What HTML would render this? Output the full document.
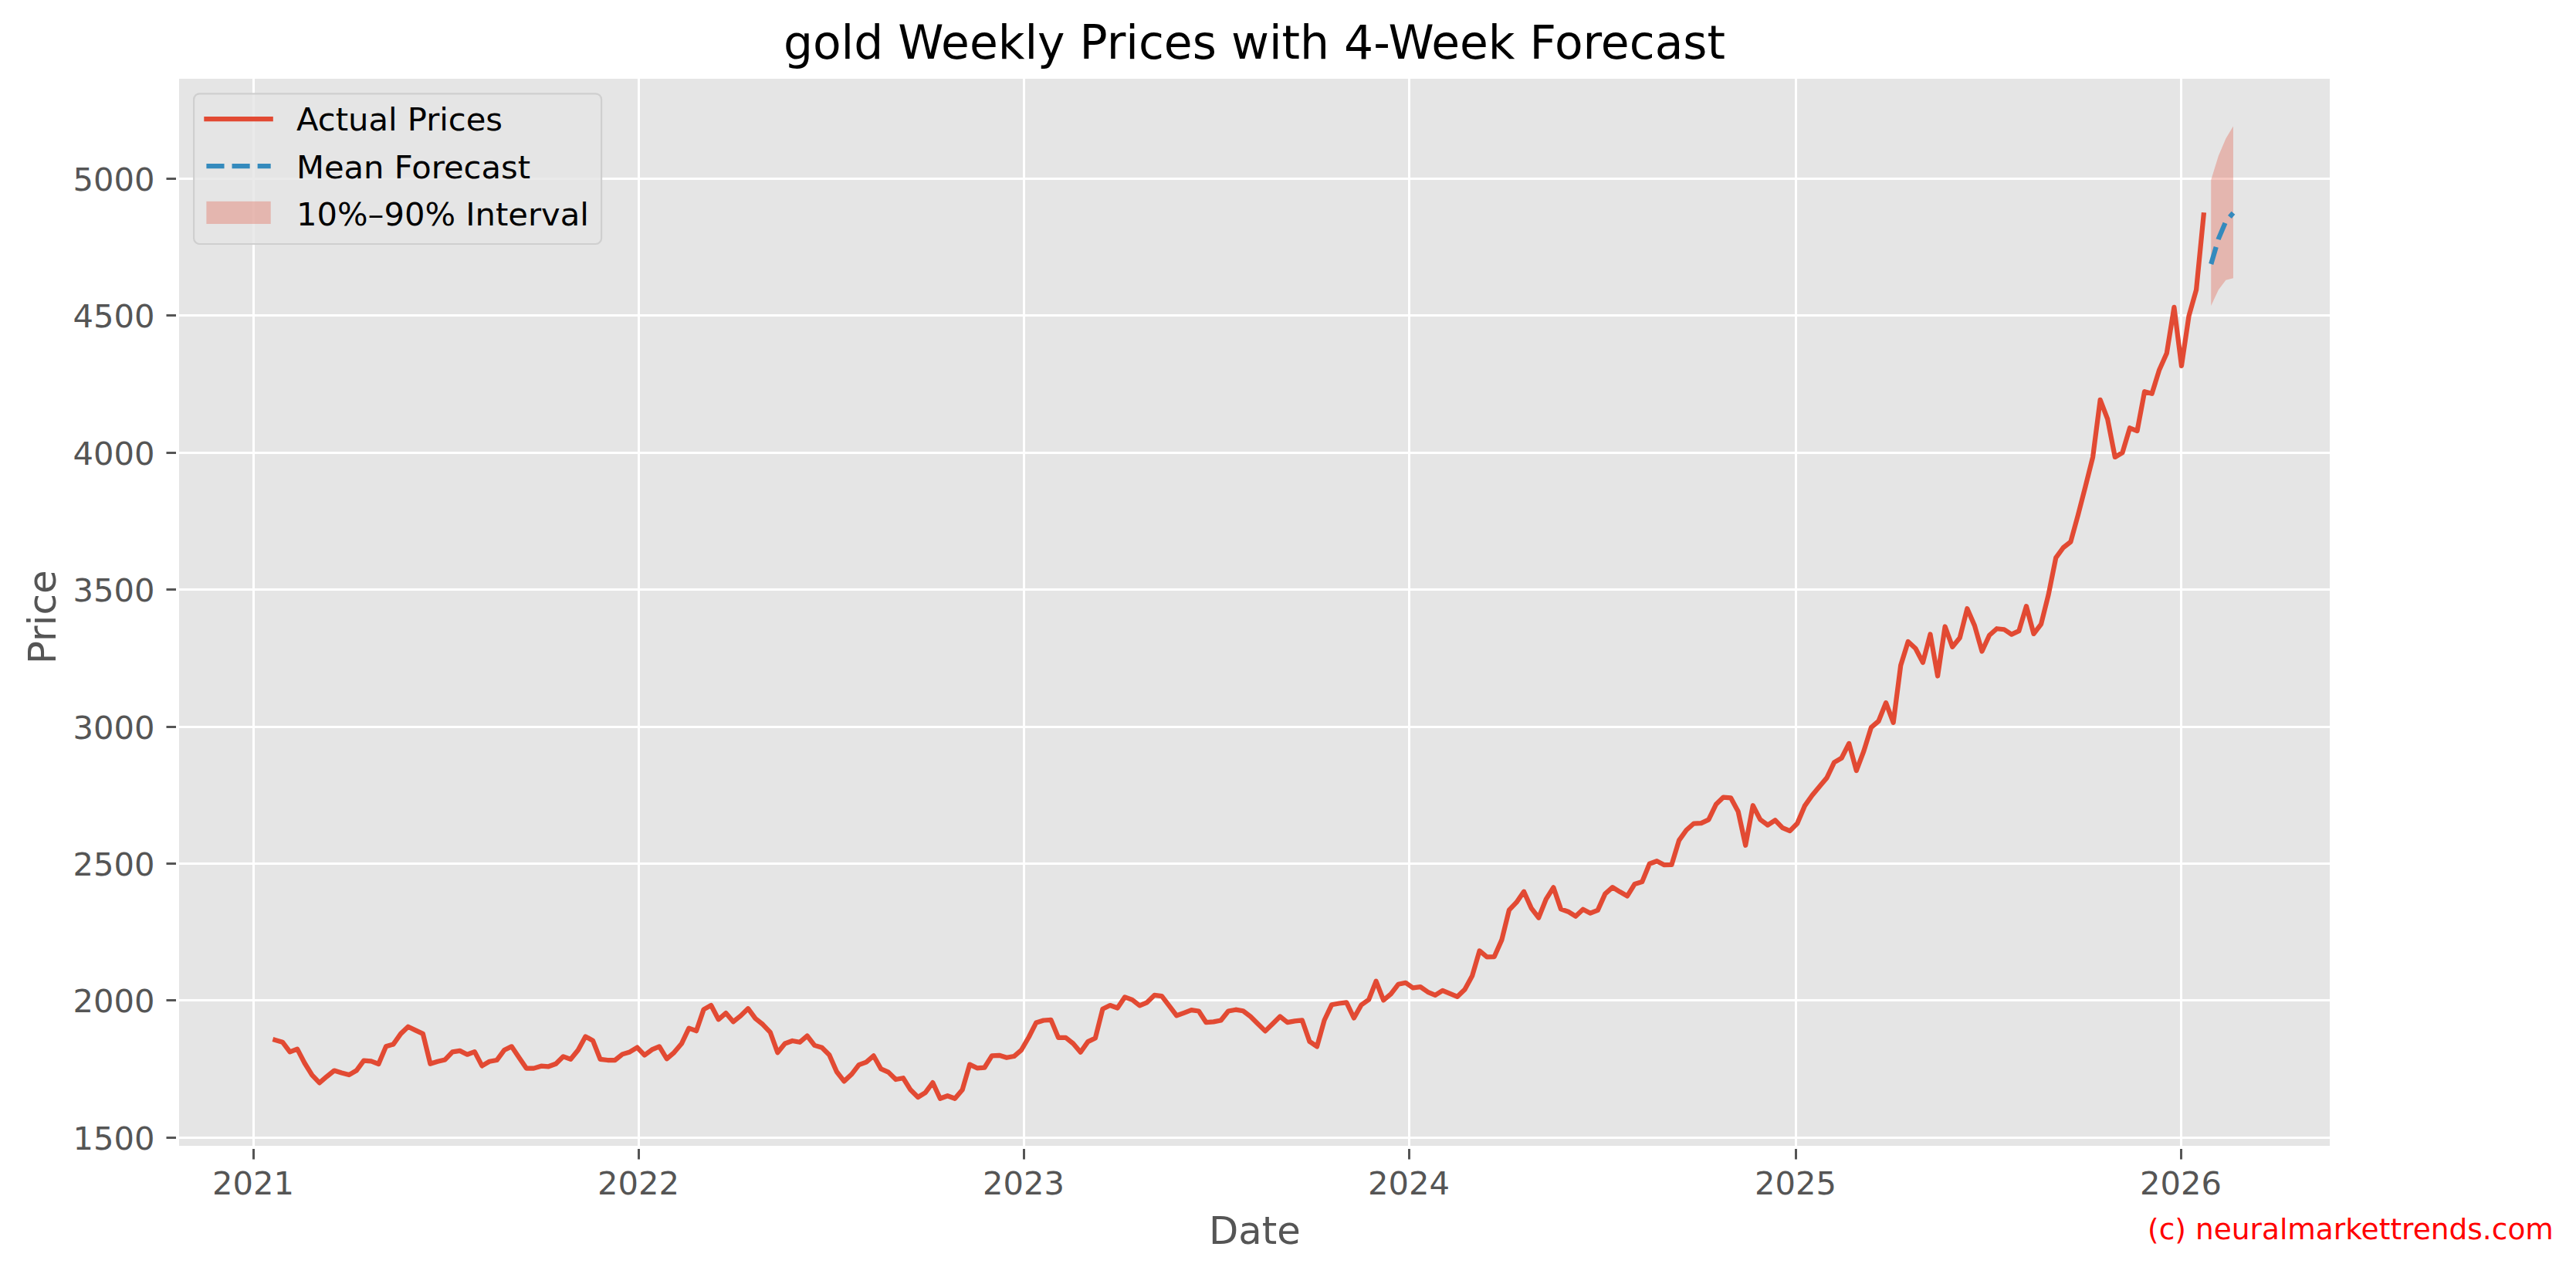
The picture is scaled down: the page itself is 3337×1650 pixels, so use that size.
<!DOCTYPE html>
<html><head><meta charset="utf-8"><title>gold Weekly Prices with 4-Week Forecast</title>
<style>
html,body{margin:0;padding:0;background:#fff;}
body{width:3337px;height:1650px;overflow:hidden;}
svg{display:block;}
text{font-family:'DejaVu Sans','Liberation Sans',sans-serif;}
</style></head><body>
<svg width="3337" height="1650" viewBox="0 0 3337 1650">
<rect x="0" y="0" width="3337" height="1650" fill="#ffffff"/>
<rect x="230.0" y="100.0" width="2790.0" height="1386.0" fill="#e5e5e5"/>
<defs><clipPath id="ax"><rect x="230.0" y="100.0" width="2790.0" height="1386.0"/></clipPath></defs>

<g stroke="#ffffff" stroke-width="3" clip-path="url(#ax)">
<line x1="328.5" y1="100.0" x2="328.5" y2="1486.0"/>
<line x1="827.5" y1="100.0" x2="827.5" y2="1486.0"/>
<line x1="1326.5" y1="100.0" x2="1326.5" y2="1486.0"/>
<line x1="1825.5" y1="100.0" x2="1825.5" y2="1486.0"/>
<line x1="2326.5" y1="100.0" x2="2326.5" y2="1486.0"/>
<line x1="2825.5" y1="100.0" x2="2825.5" y2="1486.0"/>
<line x1="230.0" y1="1473.50" x2="3020.0" y2="1473.50"/>
<line x1="230.0" y1="1295.50" x2="3020.0" y2="1295.50"/>
<line x1="230.0" y1="1118.50" x2="3020.0" y2="1118.50"/>
<line x1="230.0" y1="941.50" x2="3020.0" y2="941.50"/>
<line x1="230.0" y1="763.50" x2="3020.0" y2="763.50"/>
<line x1="230.0" y1="586.50" x2="3020.0" y2="586.50"/>
<line x1="230.0" y1="408.50" x2="3020.0" y2="408.50"/>
<line x1="230.0" y1="231.50" x2="3020.0" y2="231.50"/>
</g>
<g stroke="#555555" stroke-width="3">
<line x1="328.5" y1="1486.0" x2="328.5" y2="1501.5"/>
<line x1="827.5" y1="1486.0" x2="827.5" y2="1501.5"/>
<line x1="1326.5" y1="1486.0" x2="1326.5" y2="1501.5"/>
<line x1="1825.5" y1="1486.0" x2="1825.5" y2="1501.5"/>
<line x1="2326.5" y1="1486.0" x2="2326.5" y2="1501.5"/>
<line x1="2825.5" y1="1486.0" x2="2825.5" y2="1501.5"/>
<line x1="230.0" y1="1473.50" x2="215.5" y2="1473.50"/>
<line x1="230.0" y1="1295.50" x2="215.5" y2="1295.50"/>
<line x1="230.0" y1="1118.50" x2="215.5" y2="1118.50"/>
<line x1="230.0" y1="941.50" x2="215.5" y2="941.50"/>
<line x1="230.0" y1="763.50" x2="215.5" y2="763.50"/>
<line x1="230.0" y1="586.50" x2="215.5" y2="586.50"/>
<line x1="230.0" y1="408.50" x2="215.5" y2="408.50"/>
<line x1="230.0" y1="231.50" x2="215.5" y2="231.50"/>
</g>
<g clip-path="url(#ax)">
<polygon points="2864.24,233.00 2873.81,202.00 2883.38,179.60 2892.95,163.50 2892.95,360.30 2883.38,362.80 2873.81,375.40 2864.24,396.10" fill="#e24a33" fill-opacity="0.3"/>
<polyline points="356.40,1346.88 365.97,1349.70 375.54,1362.42 385.12,1358.65 394.69,1377.02 404.26,1392.44 413.83,1402.45 423.40,1394.21 432.98,1386.55 442.55,1389.50 452.12,1392.09 461.69,1386.55 471.26,1373.60 480.83,1374.43 490.41,1377.96 499.98,1355.35 509.55,1352.41 519.12,1338.87 528.69,1329.69 538.27,1334.40 547.84,1338.87 557.41,1377.72 566.98,1374.78 576.55,1372.43 586.13,1362.42 595.70,1360.89 605.27,1365.71 614.84,1362.13 624.41,1380.38 633.99,1374.79 643.56,1373.02 653.13,1360.07 662.70,1355.36 672.27,1369.49 681.84,1383.62 691.42,1383.62 700.99,1380.68 710.56,1381.26 720.13,1377.73 729.70,1368.31 739.28,1371.84 748.85,1360.07 758.42,1342.41 767.99,1347.71 777.56,1371.84 787.14,1373.02 796.71,1373.02 806.28,1365.37 815.85,1362.43 825.42,1356.54 834.99,1366.55 844.57,1359.48 854.14,1355.36 863.71,1371.26 873.28,1363.01 882.85,1351.83 892.43,1331.66 902.00,1335.19 911.57,1307.37 921.14,1302.07 930.71,1320.32 940.29,1312.08 949.86,1323.27 959.43,1315.61 969.00,1306.19 978.57,1319.14 988.15,1326.80 997.72,1336.81 1007.29,1363.30 1016.86,1351.52 1026.43,1347.99 1036.00,1349.76 1045.58,1341.51 1055.15,1353.88 1064.72,1356.82 1074.29,1366.24 1083.86,1388.02 1093.44,1400.38 1103.01,1391.55 1112.58,1379.19 1122.15,1375.66 1131.72,1367.42 1141.30,1384.49 1150.87,1388.61 1160.44,1398.03 1170.01,1396.26 1179.58,1411.57 1189.16,1420.99 1198.73,1415.10 1208.30,1402.15 1217.87,1422.76 1227.44,1419.22 1237.01,1422.76 1246.59,1411.57 1256.16,1378.60 1265.73,1383.31 1275.30,1382.72 1284.87,1367.42 1294.45,1366.83 1304.02,1369.77 1313.59,1368.01 1323.16,1359.76 1332.73,1343.28 1342.31,1324.44 1351.88,1321.50 1361.45,1320.91 1371.02,1343.87 1380.59,1343.87 1390.17,1351.52 1399.74,1362.71 1409.31,1349.17 1418.88,1344.46 1428.45,1306.78 1438.02,1302.07 1447.60,1305.47 1457.17,1291.35 1466.74,1294.88 1476.31,1302.40 1485.88,1298.28 1495.46,1288.86 1505.03,1290.04 1514.60,1302.64 1524.17,1315.35 1533.74,1311.82 1543.32,1308.05 1552.89,1309.47 1562.46,1324.18 1572.03,1323.36 1581.60,1321.48 1591.18,1309.47 1600.75,1307.70 1610.32,1309.23 1619.89,1316.53 1629.46,1325.95 1639.03,1335.37 1648.61,1325.95 1658.18,1316.53 1667.75,1324.18 1677.32,1322.42 1686.89,1321.48 1696.47,1348.91 1706.04,1355.38 1715.61,1321.24 1725.18,1301.22 1734.75,1299.50 1744.33,1298.36 1753.90,1318.50 1763.47,1301.46 1773.04,1294.79 1782.61,1270.77 1792.18,1295.46 1801.76,1287.45 1811.33,1274.77 1820.90,1272.77 1830.47,1279.44 1840.04,1278.11 1849.62,1284.78 1859.19,1288.78 1868.76,1282.78 1878.33,1286.78 1887.90,1290.78 1897.48,1281.44 1907.05,1264.10 1916.62,1231.41 1926.19,1239.41 1935.76,1239.01 1945.34,1217.39 1954.91,1178.70 1964.48,1168.69 1974.05,1154.68 1983.62,1176.03 1993.19,1188.70 2002.77,1164.69 2012.34,1149.34 2021.91,1177.36 2031.48,1180.70 2041.05,1186.70 2050.63,1177.73 2060.20,1182.68 2069.77,1178.84 2079.34,1157.65 2088.91,1149.17 2098.49,1155.10 2108.06,1160.47 2117.63,1144.93 2127.20,1142.10 2136.77,1118.79 2146.35,1115.26 2155.92,1120.20 2165.49,1119.92 2175.06,1088.41 2184.63,1074.99 2194.20,1066.51 2203.78,1066.09 2213.35,1061.57 2222.92,1041.79 2232.49,1032.61 2242.06,1033.31 2251.64,1050.97 2261.21,1094.77 2270.78,1043.20 2280.35,1061.57 2289.92,1068.63 2299.50,1062.28 2309.07,1072.17 2318.64,1076.12 2328.21,1066.51 2337.78,1043.91 2347.36,1030.32 2356.93,1018.67 2366.50,1007.36 2376.07,987.38 2385.64,981.73 2395.21,962.89 2404.79,998.05 2414.36,972.94 2423.93,942.17 2433.50,934.00 2443.07,910.11 2452.65,935.89 2462.22,861.73 2471.79,830.96 2481.36,839.75 2490.93,857.96 2500.51,821.54 2510.08,875.54 2519.65,811.49 2529.22,837.86 2538.79,825.93 2548.37,788.26 2557.94,810.24 2567.51,843.52 2577.08,822.79 2586.65,814.25 2596.22,815.26 2605.80,821.54 2615.37,817.14 2624.94,785.12 2634.51,820.91 2644.08,808.35 2653.66,770.00 2663.23,722.45 2672.80,709.26 2682.37,701.73 2691.94,667.00 2701.52,630.00 2711.09,591.96 2720.66,517.86 2730.23,542.98 2739.80,591.96 2749.38,586.31 2758.95,554.29 2768.52,558.05 2778.09,507.19 2787.66,509.70 2797.23,478.93 2806.81,457.58 2816.38,397.96 2825.95,473.91 2835.52,409.26 2845.09,375.35 2854.67,278.40" fill="none" stroke="#e24a33" stroke-width="6.25" stroke-linejoin="round" stroke-linecap="square"/>
<polyline points="2864.24,342.00 2873.81,309.40 2883.38,286.80 2892.95,275.70" fill="none" stroke="#348abd" stroke-width="6.25" stroke-linejoin="round" stroke-linecap="butt" stroke-dasharray="23.125 10"/>
</g>
<rect x="230.0" y="100.0" width="2790.0" height="1386.0" fill="none" stroke="#ffffff" stroke-width="4"/>
<g fill="#555555" font-size="41.67px">
<text x="328.0" y="1546.5" text-anchor="middle">2021</text>
<text x="827.0" y="1546.5" text-anchor="middle">2022</text>
<text x="1326.0" y="1546.5" text-anchor="middle">2023</text>
<text x="1825.0" y="1546.5" text-anchor="middle">2024</text>
<text x="2326.0" y="1546.5" text-anchor="middle">2025</text>
<text x="2825.0" y="1546.5" text-anchor="middle">2026</text>
<text x="200.4" y="1489.10" text-anchor="end">1500</text>
<text x="200.4" y="1311.10" text-anchor="end">2000</text>
<text x="200.4" y="1134.10" text-anchor="end">2500</text>
<text x="200.4" y="957.10" text-anchor="end">3000</text>
<text x="200.4" y="779.10" text-anchor="end">3500</text>
<text x="200.4" y="602.10" text-anchor="end">4000</text>
<text x="200.4" y="424.10" text-anchor="end">4500</text>
<text x="200.4" y="247.10" text-anchor="end">5000</text>
</g>
<text x="1625.4" y="1610.7" text-anchor="middle" font-size="49.7px" fill="#555555">Date</text>
<text transform="translate(71.9,799.3) rotate(-90)" text-anchor="middle" font-size="50px" fill="#555555">Price</text>
<text x="1625" y="76.4" text-anchor="middle" font-size="59.92px" fill="#000000">gold Weekly Prices with 4-Week Forecast</text>
<text x="3307.9" y="1605.1" text-anchor="end" font-size="37.5px" fill="#ff0000">(c) neuralmarkettrends.com</text>
<rect x="251.1" y="121.4" width="528.0" height="194.6" rx="7.5" ry="7.5" fill="#e5e5e5" fill-opacity="0.8" stroke="#cccccc" stroke-opacity="0.9" stroke-width="2.2"/>
<line x1="267.4" y1="154" x2="350.7" y2="154" stroke="#e24a33" stroke-width="6.25" stroke-linecap="square"/>
<line x1="267.4" y1="215" x2="350.7" y2="215" stroke="#348abd" stroke-width="6.25" stroke-dasharray="23.125 10"/>
<rect x="267.4" y="260.8" width="83.3" height="29.2" fill="#e24a33" fill-opacity="0.3"/>
<g fill="#000000" font-size="41.67px">
<text x="384" y="169.4">Actual Prices</text>
<text x="384" y="230.5">Mean Forecast</text>
<text x="384" y="291.7">10%–90% Interval</text>
</g>
</svg></body></html>
